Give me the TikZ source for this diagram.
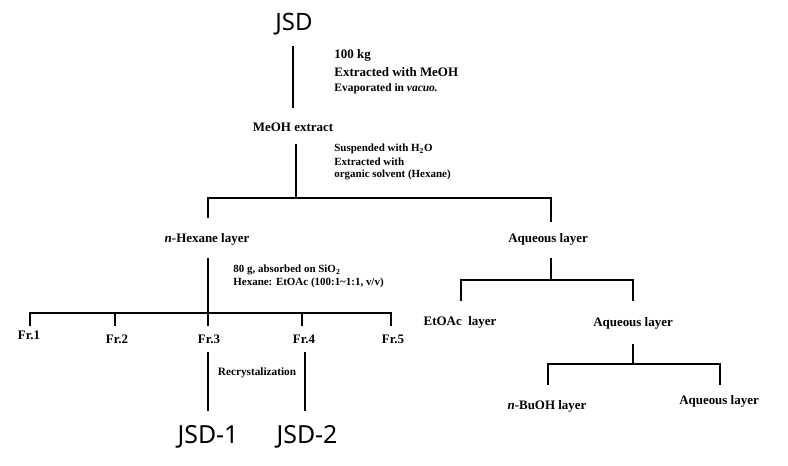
\documentclass[tikz,border=0pt]{standalone}
\usepackage{fontspec}
\setmainfont{Liberation Serif}
\newfontfamily\jsdfont{Noto Sans}
\begin{document}
\begin{tikzpicture}[x=1bp,y=-1bp,
  line width=2.8bp, line cap=rect,
  lbl/.style={font=\fontsize{13}{15}\selectfont\bfseries, inner sep=0},
  note/.style={font=\fontsize{11}{13}\selectfont\bfseries, inner sep=0, anchor=west},
  big/.style={font=\jsdfont\fontsize{25}{28}\selectfont, inner sep=0}]
\useasboundingbox (0,0) rectangle (788,466);
% top
\node[big, font=\jsdfont\fontsize{24}{27}\selectfont] (jsd) at (294,24) {JSD};
\node[note, font=\fontsize{13}{15}\selectfont\bfseries] (n1a) at (333,55) {100 kg};
\node[note, font=\fontsize{13}{15}\selectfont\bfseries] (n1b) at (333,72) {Extracted with MeOH};
\node[note, font=\fontsize{11.5}{14}\selectfont\bfseries] (n1c) at (333,89) {Evaporated in \textit{vacuo.}};
\node[lbl] (meoh) at (293,127) {MeOH extract};
\node[note] (n2a) at (333,149) {Suspended with H\textsubscript{2}O};
\node[note] (n2b) at (333,162) {Extracted with};
\node[note] (n2c) at (333,175) {organic solvent (Hexane)};
\coordinate (c1t) at (293,47);
\coordinate (c1b) at (293,107);
\coordinate (c2t) at (296,145);
\coordinate (c2b) at (296,198);
\coordinate (hexT) at (208,217);
\coordinate (aqT) at (551,221);
\draw (c1t) -- (c1b);
\draw (c2t) -- (c2b);
\draw (hexT) |- (c2b) -| (aqT);
% hexane branch
\node[lbl] (hex) at (207,239) {\textit{n}-Hexane layer};
\node[note] (n3a) at (232,270) {80 g, absorbed on SiO\textsubscript{2}};
\node[note] (n3b) at (232,283) {Hexane: EtOAc (100:1\textasciitilde1:1, v/v)};
\coordinate (c3t) at (208,259);
\coordinate (c3b) at (208,313);
\coordinate (f1t) at (30,325);
\coordinate (f2t) at (115,325);
\coordinate (f3t) at (208,325);
\coordinate (f4t) at (302,325);
\coordinate (f5t) at (391,325);
\draw (c3t) -- (f3t);
\draw (f1t) |- (c3b) -| (f5t);
\draw (f2t) -- (f2t |- c3b);
\draw (f4t) -- (f4t |- c3b);
\node[lbl] (fr1) at (29,335) {Fr.1};
\node[lbl] (fr2) at (117,339) {Fr.2};
\node[lbl] (fr3) at (209,339) {Fr.3};
\node[lbl] (fr4) at (304,339) {Fr.4};
\node[lbl] (fr5) at (393,339) {Fr.5};
\coordinate (r1t) at (208,353);
\coordinate (r1b) at (208,410);
\coordinate (r2t) at (305,353);
\coordinate (r2b) at (305,410);
\draw (r1t) -- (r1b);
\draw (r2t) -- (r2b);
\node[note, anchor=center, font=\fontsize{11.3}{13}\selectfont\bfseries] (recr) at (257,373) {Recrystalization};
\node[big] (jsd1) at (208,437) {JSD-1};
\node[big] (jsd2) at (307,437) {JSD-2};
% aqueous branch
\node[lbl] (aq1) at (548,239) {Aqueous layer};
\coordinate (c4t) at (551,259);
\coordinate (c4b) at (551,280);
\coordinate (eaT) at (461,300);
\coordinate (aq2T) at (633,300);
\draw (c4t) -- (c4b);
\draw (eaT) |- (c4b) -| (aq2T);
\node[lbl] (ea) at (460,322) {EtOAc\ \ layer};
\node[lbl] (aq2) at (633,323) {Aqueous layer};
\coordinate (c5t) at (633,345);
\coordinate (c5b) at (633,364);
\coordinate (buT) at (548,384);
\coordinate (aq3T) at (720,384);
\draw (c5t) -- (c5b);
\draw (buT) |- (c5b) -| (aq3T);
\node[lbl] (bu) at (547,406) {\textit{n}-BuOH layer};
\node[lbl] (aq3) at (719,401) {Aqueous layer};
\end{tikzpicture}
\end{document}
